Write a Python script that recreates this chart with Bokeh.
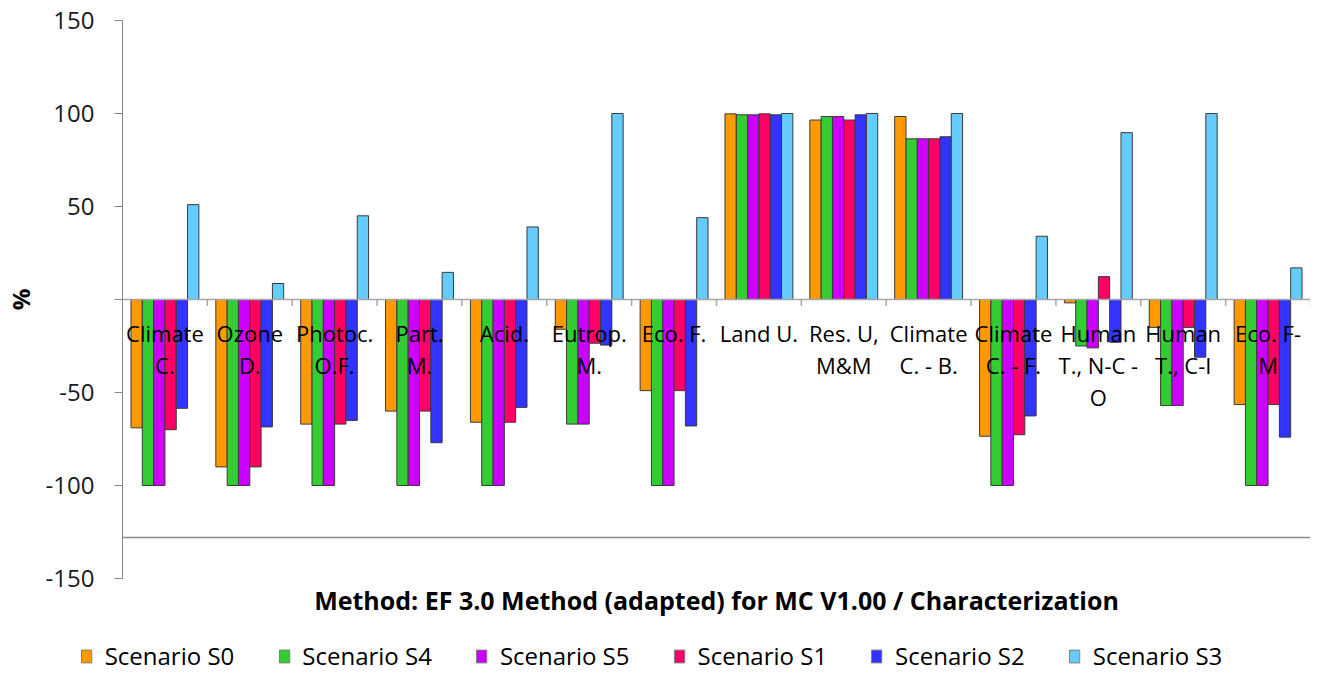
import numpy as np
from bokeh.plotting import figure
from bokeh.models import (Range1d, FixedTicker, Span, Legend, LegendItem, ColumnDataSource)
from bokeh.core.properties import value
from bokeh.embed import file_html
from bokeh.resources import INLINE

categories = ["Climate C.", "Ozone D.", "Photoc. O.F.", "Part. M.", "Acid.", "Eutrop. M.",
              "Eco. F.", "Land U.", "Res. U, M&M", "Climate C. - B.", "Climate C. - F.",
              "Human T., N-C - O", "Human T., C-I", "Eco. F-M"]
category_labels = ["Climate\nC.", "Ozone\nD.", "Photoc.\nO.F.", "Part.\nM.", "Acid.", "Eutrop.\nM.",
                   "Eco. F.", "Land U.", "Res. U,\nM&M", "Climate\nC. - B.", "Climate\nC. - F.",
                   "Human\nT., N-C -\nO", "Human\nT., C-I", "Eco. F-\nM"]

series_names = ["Scenario S0", "Scenario S4", "Scenario S5", "Scenario S1", "Scenario S2", "Scenario S3"]
series_colors = ["#FF9900", "#33CC33", "#CC00FF", "#FF0066", "#3333FF", "#66CCFF"]

s0 = [-69, -90, -67, -60, -66, -16, -49, 99.8, 96.5, 98.4, -73.5, -1.8, -15, -56.5]
s4 = [-100, -100, -100, -100, -100, -67, -100, 99.3, 98.4, 86.4, -100, -25, -57, -100]
s5 = [-100, -100, -100, -100, -100, -67, -100, 99.3, 98.4, 86.4, -100, -26, -57, -100]
s1 = [-70, -90, -67, -60, -66, -23.5, -49, 99.8, 96.5, 86.4, -72.7, 12.3, -15, -56.5]
s2 = [-58.5, -68.5, -65, -77, -58, -24.5, -68, 99.3, 99.3, 87.5, -62.6, -23, -31, -74]
s3 = [51, 8.6, 45, 14.6, 39, 100, 44, 100, 100, 100, 34, 89.7, 100, 17]
series_values = [s0, s4, s5, s1, s2, s3]

y_ticks = [-150, -100, -50, 0, 50, 100, 150]
y_tick_labels = ["-150", "-100", "-50", "", "50", "100", "150"]
reference_line = -128

title_text = "Method: EF 3.0 Method (adapted) for MC V1.00 / Characterization"

n = len(categories)
p = figure(frame_width=1188, frame_height=558, output_backend="svg", toolbar_location=None,
           x_range=Range1d(0, n), y_range=Range1d(-150, 150),
           min_border_left=114, min_border_right=0, min_border_top=20, min_border_bottom=0)
p.outline_line_color = None
p.xgrid.visible = False
p.ygrid.visible = False
p.background_fill_color = "white"
p.border_fill_color = "white"

# y axis
yax = p.yaxis[0]
yax.ticker = FixedTicker(ticks=y_ticks)
yax.major_label_overrides = {t: l for t, l in zip(y_ticks, y_tick_labels)}
yax.major_label_text_font = "Open Sans"
yax.major_label_text_font_size = "24px"
yax.major_label_text_color = "#1a1a1a"
yax.axis_line_color = "#868686"
yax.major_tick_line_color = "#868686"
yax.major_tick_in = 0
yax.major_tick_out = 8
yax.minor_tick_line_color = None
yax.major_label_standoff = 20
yax.axis_label = "%"
yax.axis_label_text_font = "Open Sans"
yax.axis_label_text_font_style = "bold"
yax.axis_label_text_font_size = "24px"
yax.axis_label_text_color = "#000000"
yax.axis_label_standoff = 6

# x axis: title only
xax = p.xaxis[0]
xax.ticker = FixedTicker(ticks=[])
xax.axis_line_color = None
xax.major_tick_line_color = None
xax.minor_tick_line_color = None
xax.axis_label = title_text
xax.axis_label_text_font = "Open Sans"
xax.axis_label_text_font_style = "bold"
xax.axis_label_text_font_size = "25px"
xax.axis_label_text_color = "#000000"
xax.axis_label_standoff = 4

# reference line
p.add_layout(Span(location=reference_line, dimension="width", line_color="#8c8c8c", line_width=1.5))

# bars
group_width = 0.8
bw = group_width / len(series_names)
idx = np.arange(n)
for j, (name, vals, col) in enumerate(zip(series_names, series_values, series_colors)):
    xs = idx + 0.1 + (j + 0.5) * bw
    p.vbar(x=xs, top=vals, bottom=0, width=bw, fill_color=col,
           line_color="#3a3a3a", line_width=1)

# zero (category) axis line and ticks
p.add_layout(Span(location=0, dimension="width", line_color="#a6a6a6", line_width=1.5))
bounds = np.arange(1, n + 1)
p.segment(x0=bounds, x1=bounds, y0=0, y1=-3.5, line_color="#a6a6a6", line_width=1.5)

# category labels
src = ColumnDataSource(dict(x=idx + 0.5, y=np.zeros(n), t=category_labels))
p.text(x="x", y="y", text="t", source=src, text_align="center", text_baseline="top",
       y_offset=18, text_font=value("Open Sans"), text_font_size="22px",
       text_color="#000000", text_line_height=1.07)

# legend in its own strip (separate root, so its frame spans the full width)
lg = figure(width=1302, height=53, output_backend="svg", toolbar_location=None,
            x_axis_location=None, y_axis_location=None,
            x_range=Range1d(0, 1), y_range=Range1d(0, 1),
            min_border_left=0, min_border_right=0, min_border_top=0, min_border_bottom=0)
lg.outline_line_color = None
lg.xgrid.visible = False
lg.ygrid.visible = False
items = []
for name, col in zip(series_names, series_colors):
    r = lg.vbar(x=[np.nan], top=[np.nan], width=0.1, fill_color=col, line_color="#7f7f7f", line_width=1)
    items.append(LegendItem(label=name, renderers=[r]))
legend = Legend(items=items, orientation="horizontal", location="bottom_center",
                label_text_font="Open Sans", label_text_font_size="24px", label_text_color="#000000",
                glyph_width=13, glyph_height=16, spacing=43, label_standoff=12,
                border_line_color=None, background_fill_alpha=0, margin=0, padding=2)
lg.add_layout(legend)

open("out.html", "w").write(file_html([p, lg], INLINE))
